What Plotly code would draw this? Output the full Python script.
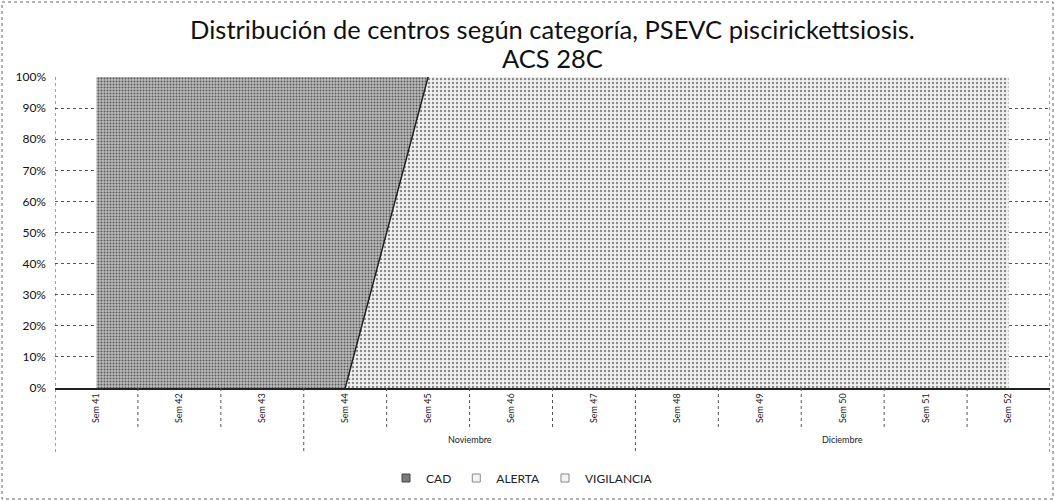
import plotly.graph_objects as go

# ---- data ----
weeks = ["Sem 41", "Sem 42", "Sem 43", "Sem 44", "Sem 45", "Sem 46",
         "Sem 47", "Sem 48", "Sem 49", "Sem 50", "Sem 51", "Sem 52"]
months = ["", "", "", "Noviembre", "Noviembre", "Noviembre", "Noviembre",
          "Diciembre", "Diciembre", "Diciembre", "Diciembre", "Diciembre"]
cad = [100, 100, 100, 100, 0, 0, 0, 0, 0, 0, 0, 0]
alerta = [0, 0, 0, 0, 0, 0, 0, 0, 0, 0, 0, 0]
vigilancia = [0, 0, 0, 0, 100, 100, 100, 100, 100, 100, 100, 100]
y_ticks = [0, 10, 20, 30, 40, 50, 60, 70, 80, 90, 100]
y_tick_text = [f"{v}%" for v in y_ticks]
title_line1 = "Distribución de centros según categoría, PSEVC piscirickettsiosis."
title_line2 = "ACS 28C"

FONT = "Lato"
x = list(range(len(weeks)))

fig = go.Figure()

light_pat = dict(shape=".", bgcolor="#f2f2f2", fgcolor="#8c8c8c", size=4, solidity=0.3, fillmode="replace")
dark_pat = dict(shape=".", bgcolor="#bcbcbc", fgcolor="#5a5a5a", size=3, solidity=0.35, fillmode="replace")

fig.add_trace(go.Scatter(x=x, y=vigilancia, name="VIGILANCIA", stackgroup="one",
                         mode="none", fillpattern=light_pat, fillcolor="#e8e8e8",
                         showlegend=False, hoverinfo="skip"))
fig.add_trace(go.Scatter(x=x, y=alerta, name="ALERTA", stackgroup="one",
                         mode="none", fillpattern=light_pat, fillcolor="#e8e8e8",
                         showlegend=False, hoverinfo="skip"))
fig.add_trace(go.Scatter(x=x, y=cad, name="CAD", stackgroup="one",
                         mode="none", fillpattern=dark_pat, fillcolor="#9a9a9a",
                         showlegend=False, hoverinfo="skip"))

# boundary line between lower (light) and upper (dark) series, only where it changes
bound = []
n = len(vigilancia)
for i in range(n):
    prev_diff = i > 0 and vigilancia[i] != vigilancia[i - 1]
    next_diff = i < n - 1 and vigilancia[i] != vigilancia[i + 1]
    bound.append(vigilancia[i] if (prev_diff or next_diff) else None)
fig.add_trace(go.Scatter(x=x, y=bound, mode="lines", line=dict(color="#222222", width=1.5),
                         showlegend=False, hoverinfo="skip", connectgaps=False))

# legend entries (small square swatches like the original)
legend_items = [("CAD", "#7a7a7a", "#444444"), ("ALERTA", "#f4f4f4", "#888888"),
                ("VIGILANCIA", "#f4f4f4", "#888888")]
for name, fc, lc in legend_items:
    fig.add_trace(go.Scatter(x=[None], y=[None], mode="markers", name=name,
                             marker=dict(symbol="square", size=8, color=fc,
                                         line=dict(color=lc, width=1)),
                             hoverinfo="skip"))

# plot geometry (pixels) for shapes below axis
top_px, bot_px = 77, 388
h = bot_px - top_px
def py(px):
    return (bot_px - px) / h

shapes = []
for i in range(1, len(weeks)):
    xb = i - 0.5
    long = months[i - 1] != months[i]
    y_end = py(453) if long else py(430)
    shapes.append(dict(type="line", xref="x", yref="paper", x0=xb, x1=xb, y0=0, y1=y_end,
                       line=dict(color="#555555", width=1, dash="dot")))
shapes.append(dict(type="line", xref="x", yref="paper", x0=-0.5, x1=-0.5, y0=1, y1=py(453),
                   line=dict(color="#444444", width=1, dash="dot")))
shapes.append(dict(type="line", xref="x", yref="paper", x0=len(weeks) - 0.5, x1=len(weeks) - 0.5,
                   y0=1, y1=py(453), line=dict(color="#444444", width=1, dash="dot")))
shapes.append(dict(type="rect", xref="paper", yref="paper",
                   x0=(2 - 55) / 995, x1=(1053 - 55) / 995, y0=py(2), y1=py(499),
                   line=dict(color="#666666", width=1, dash="dot"), fillcolor="rgba(0,0,0,0)",
                   layer="above"))

annotations = []
i = 0
while i < len(months):
    j = i
    while j + 1 < len(months) and months[j + 1] == months[i]:
        j += 1
    if months[i]:
        annotations.append(dict(x=(i + j) / 2, y=py(447), xref="x", yref="paper",
                                text=months[i], showarrow=False,
                                font=dict(family=FONT, size=9, color="#222222")))
    i = j + 1

annotations.append(dict(x=0.5, y=py(58), xref="paper", yref="paper", text=title_line2,
                        showarrow=False, xanchor="center", yanchor="middle",
                        font=dict(family=FONT, size=25.5, color="#111111")))

fig.update_layout(
    width=1055, height=501,
    paper_bgcolor="white", plot_bgcolor="white",
    margin=dict(l=55, r=5, t=top_px, b=501 - bot_px, autoexpand=False),
    title=dict(text=title_line1, x=0.5, xref="paper", xanchor="center",
               y=1 - 30 / 501, yanchor="middle", yref="container",
               font=dict(family=FONT, size=25.5, color="#111111")),
    xaxis=dict(range=[-0.5, len(weeks) - 0.5], tickmode="array", tickvals=x, ticktext=weeks,
               tickangle=-90, tickfont=dict(family=FONT, size=9, color="#222222"),
               showgrid=False, zeroline=False, showline=True, linecolor="#222222", linewidth=1.5,
               ticks="", fixedrange=True),
    yaxis=dict(range=[0, 100], tickmode="array", tickvals=y_ticks, ticktext=y_tick_text,
               tickfont=dict(family=FONT, size=12, color="#111111"),
               showgrid=True, gridcolor="#555555", griddash="dot", gridwidth=1,
               zeroline=False, showline=False, ticks="", ticklabelstandoff=8),
    legend=dict(orientation="h", x=(522 - 55) / 995, xanchor="center", y=py(478), yanchor="middle",
                font=dict(family=FONT, size=12, color="#222222"), traceorder="normal",
                itemwidth=30, bgcolor="rgba(0,0,0,0)"),
    shapes=shapes, annotations=annotations,
    hovermode=False,
)

fig.write_html("out.html", config={"displayModeBar": False},
               post_script="document.body.style.margin='0';document.body.style.padding='0';")
